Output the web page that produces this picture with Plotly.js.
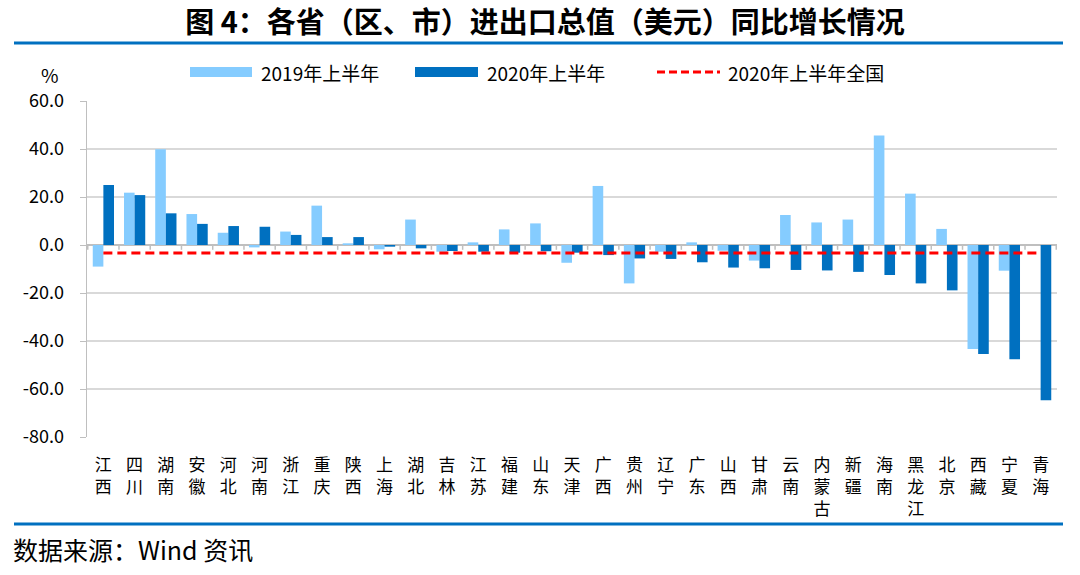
<!DOCTYPE html>
<html>
<head>
<meta charset="utf-8">
<script src="https://cdn.plot.ly/plotly-3.0.1.min.js"></script>
<style>
  body { margin: 0; background: #fff; }
  #chart { width: 1080px; height: 575px; }
</style>
</head>
<body>
<div id="chart"></div>
<script>
// data
const provinces = ["江西", "四川", "湖南", "安徽", "河北", "河南", "浙江", "重庆", "陕西", "上海",
  "湖北", "吉林", "江苏", "福建", "山东", "天津", "广西", "贵州", "辽宁", "广东",
  "山西", "甘肃", "云南", "内蒙古", "新疆", "海南", "黑龙江", "北京", "西藏", "宁夏", "青海"];
const h1_2019 = [-9.0, 21.8, 39.9, 12.9, 5.1, -1.0, 5.6, 16.4, 0.7, -1.8,
  10.6, -2.8, 1.1, 6.5, 9.0, -7.4, 24.6, -16.0, -2.8, 1.1,
  -2.4, -6.5, 12.5, 9.4, 10.6, 45.6, 21.4, 6.7, -43.3, -10.7, 0.0];
const h1_2020 = [25.0, 20.8, 13.2, 8.8, 7.9, 7.6, 4.2, 3.3, 3.3, -0.7,
  -1.4, -2.5, -2.8, -3.2, -2.6, -3.2, -4.2, -5.6, -5.8, -7.2,
  -9.4, -9.7, -10.4, -10.6, -11.2, -12.5, -16.0, -18.9, -45.4, -47.6, -64.7];
const national2020 = -3.3;
const yTicks = [60, 40, 20, 0, -20, -40, -60, -80];
const yTickLabels = ["60.0", "40.0", "20.0", "0.0", "-20.0", "-40.0", "-60.0", "-80.0"];

const lightBlue = "#85CCFF";
const darkBlue = "#0070C0";
const font = "'Noto Sans CJK SC', 'Noto Sans', sans-serif";

// plot area: x 87..1057, y 101..437 px
const px = v => (v - 87) / 970;
const py = v => (437 - v) / 336;

const traces = [
  { type: "bar", name: "2019年上半年", x: provinces, y: h1_2019,
    marker: { color: lightBlue }, hoverinfo: "x+y" },
  { type: "bar", name: "2020年上半年", x: provinces, y: h1_2020,
    marker: { color: darkBlue }, hoverinfo: "x+y" },
  { type: "scatter", mode: "lines", name: "2020年上半年全国", x: provinces,
    y: provinces.map(() => national2020),
    line: { color: "#FF0000", width: 3, dash: "9px,5px" }, hoverinfo: "y" }
];

const shapes = [
  // blue rules under title and above source
  { type: "line", xref: "paper", yref: "paper", x0: px(14), x1: px(1063), y0: py(43), y1: py(43),
    line: { color: darkBlue, width: 3 } },
  { type: "line", xref: "paper", yref: "paper", x0: px(14), x1: px(1063), y0: py(524), y1: py(524),
    line: { color: darkBlue, width: 3 } },
  // legend swatches
  { type: "rect", xref: "paper", yref: "paper", x0: px(190), x1: px(252), y0: py(77), y1: py(67),
    fillcolor: lightBlue, line: { width: 0 } },
  { type: "rect", xref: "paper", yref: "paper", x0: px(415), x1: px(478), y0: py(77), y1: py(67),
    fillcolor: darkBlue, line: { width: 0 } },
  { type: "line", xref: "paper", yref: "paper", x0: px(657), x1: px(720), y0: py(72), y1: py(72),
    line: { color: "#FF0000", width: 3, dash: "8px,4px" } }
];
// small tick marks between categories on the zero line
for (let i = 0; i <= provinces.length; i++) {
  shapes.push({ type: "line", xref: "x", yref: "y", x0: i - 0.5, x1: i - 0.5, y0: 0, y1: -2,
    line: { color: "#BFBFBF", width: 1.5 } });
}

const annotations = [
  { xref: "paper", yref: "paper", x: px(259), y: py(72), xanchor: "left", yanchor: "middle",
    text: "2019年上半年", showarrow: false, font: { size: 19, color: "#000" } },
  { xref: "paper", yref: "paper", x: px(485), y: py(72), xanchor: "left", yanchor: "middle",
    text: "2020年上半年", showarrow: false, font: { size: 19, color: "#000" } },
  { xref: "paper", yref: "paper", x: px(726), y: py(72), xanchor: "left", yanchor: "middle",
    text: "2020年上半年全国", showarrow: false, font: { size: 19, color: "#000" } },
  { xref: "paper", yref: "paper", x: px(50), y: py(74), xanchor: "center", yanchor: "middle",
    text: "%", showarrow: false, font: { size: 19, color: "#000" } },
  { xref: "paper", yref: "paper", x: px(11), y: py(549), xanchor: "left", yanchor: "middle",
    text: "数据来源：Wind 资讯", showarrow: false, font: { size: 25, color: "#000" } }
];

const layout = {
  width: 1080,
  height: 575,
  margin: { l: 87, r: 23, t: 101, b: 138 },
  paper_bgcolor: "#fff",
  plot_bgcolor: "#fff",
  font: { family: font, color: "#000" },
  title: {
    text: "<b>图 4：各省（区、市）进出口总值（美元）同比增长情况</b>",
    x: 545 / 1080, xanchor: "center",
    y: 1 - 23 / 575, yanchor: "middle",
    font: { size: 29, color: "#000" }
  },
  showlegend: false,
  barmode: "group",
  bargap: 0.32,
  bargroupgap: 0,
  xaxis: {
    type: "category",
    tickvals: provinces,
    ticktext: provinces.map(p => p.split("").join("<br>")),
    tickfont: { size: 17, color: "#000" },
    ticklabelstandoff: 16,
    showgrid: false,
    showline: false,
    ticks: "",
    zeroline: false,
    fixedrange: true
  },
  yaxis: {
    range: [-80, 60],
    tickvals: yTicks,
    ticktext: yTickLabels,
    tickfont: { size: 18, color: "#000" },
    ticklabelstandoff: 12,
    showgrid: true,
    gridcolor: "#D9D9D9",
    gridwidth: 1.5,
    zeroline: true,
    zerolinecolor: "#BFBFBF",
    zerolinewidth: 1.5,
    showline: true,
    linecolor: "#BFBFBF",
    linewidth: 1.5,
    ticks: "outside",
    ticklen: 6,
    tickcolor: "#BFBFBF",
    fixedrange: true
  },
  shapes: shapes,
  annotations: annotations
};

Plotly.newPlot("chart", traces, layout, { displayModeBar: false, staticPlot: true });
</script>
</body>
</html>
